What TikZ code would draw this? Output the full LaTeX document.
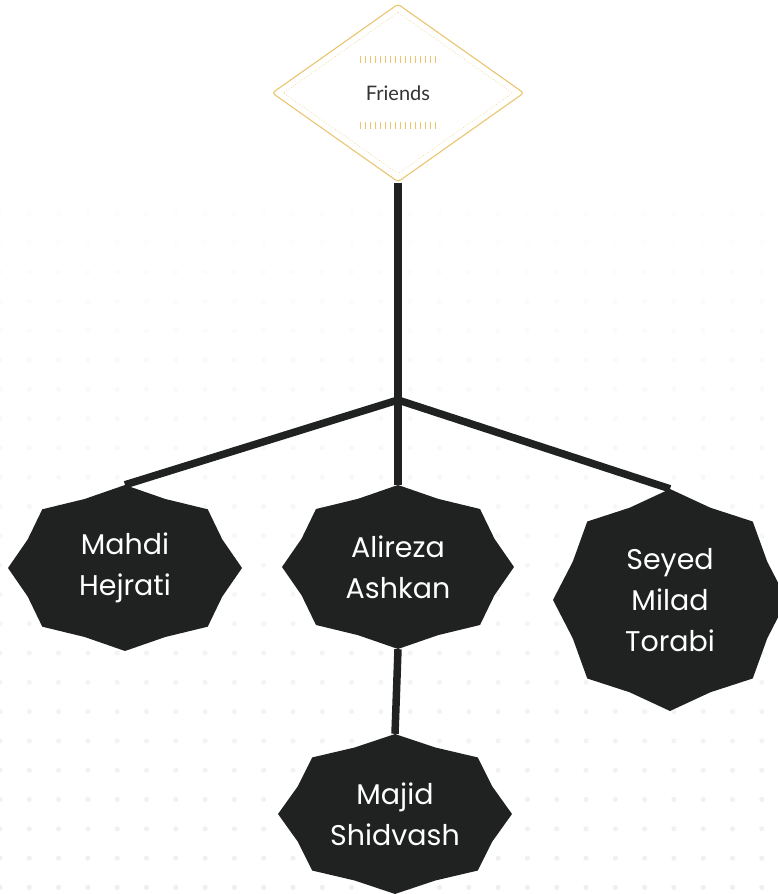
\documentclass[tikz,border=0pt]{standalone}
\usepackage{fontspec}
\usepackage{tikz}
\usetikzlibrary{shapes.geometric,calc,backgrounds}
\newfontfamily\namefont{Poppins}
\newfontfamily\labelfont{Lato}
\definecolor{inkdark}{RGB}{31,34,33}
\definecolor{goldline}{RGB}{234,197,110}
\pgfdeclarelayer{grid}
\pgfsetlayers{grid,background,main}

\begin{document}
\begin{tikzpicture}[x=1pt,y=1pt,
  member/.style={rectangle,inner sep=0pt,text=white,align=center,
    font=\namefont\fontsize{28.5}{41}\selectfont},
  rootbox/.style={diamond,draw=goldline,line width=1.1pt,rounded corners=3pt,
    minimum width=252pt,minimum height=178pt,text=black!80,
    font=\labelfont\fontsize{20}{22}\selectfont},
  link/.style={draw=inkdark,line width=7.5pt}]

  \useasboundingbox (0,0) rectangle (778,894);

  % Dotted background grid
  \begin{pgfonlayer}{grid}
    \foreach \i in {0,...,26} {
      \foreach \j in {0,...,30} {
        \pgfmathsetmacro{\pct}{0.3+12*max(0,(8.4+29.3*\j-150)/744)}
        \fill[gray!\pct] (29.3*\i,894-8.4-29.3*\j) circle (2.6);
      }
    }
  \end{pgfonlayer}

  % Root
  \node[rootbox] (friends) at (398,801) {Friends};
  \draw[goldline!80,line width=0.7pt,dash pattern=on 0.7pt off 2pt]
    ($(friends.north)+(0,-9)$) -- ($(friends.east)+(-12,0)$) --
    ($(friends.south)+(0,9)$) -- ($(friends.west)+(12,0)$) -- cycle;
  \foreach \dy in {33,-33} {
    \draw[goldline,line width=7pt,dash pattern=on 1.3pt off 3.7pt]
      ($(friends.center)+(-38,\dy)$) -- ($(friends.center)+(38,\dy)$);
  }

  % Members
  \node[member,minimum width=234pt,minimum height=166pt] (mahdi) at (125,326) {Mahdi\\Hejrati};
  \node[member,minimum width=232pt,minimum height=164pt] (alireza) at (398,327) {Alireza\\Ashkan};
  \node[member,minimum width=234pt,minimum height=222pt] (seyed) at (670,294) {Seyed\\Milad\\Torabi};
  \node[member,minimum width=234pt,minimum height=160pt] (majid) at (395,80) {Majid\\Shidvash};
  \coordinate (junc) at (398,494);

  \begin{scope}[on background layer]
    % Edges
    \draw[link] (friends.south) -- (junc);
    \foreach \n in {mahdi,alireza,seyed} {
      \draw[link] (junc) -- (\n.north);
    }
    \draw[link] (alireza.south) -- (majid.north);
    \fill[inkdark] (junc) circle (3.7);

    % Star shapes
    \foreach \n/\rx/\ry in {mahdi/117/83, alireza/116/82, seyed/117/111, majid/117/80} {
      \fill[inkdark,shift={(\n.center)}]
        plot[samples at={0,...,15}]
        ({\rx*(1-0.1*mod(\x,2))*cos(22.5*\x)},{\ry*(1-0.1*mod(\x,2))*sin(22.5*\x)}) -- cycle;
    }
  \end{scope}
\end{tikzpicture}
\end{document}
